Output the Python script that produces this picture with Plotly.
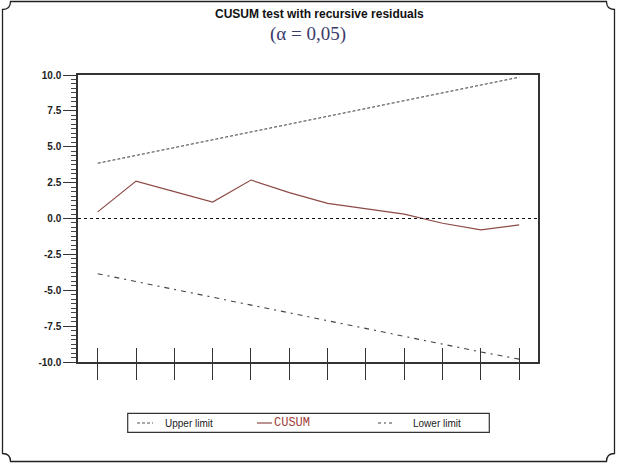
import plotly.graph_objects as go

# ---- data ----
periods = list(range(1, 13))
cusum = [0.46, 2.61, 1.87, 1.15, 2.68, 1.80, 1.06, 0.70, 0.30, -0.33, -0.79, -0.44]
upper_limit = [3.85, 4.40, 4.94, 5.49, 6.03, 6.58, 7.12, 7.67, 8.21, 8.76, 9.30, 9.85]
lower_limit = [-3.85, -4.40, -4.94, -5.49, -6.03, -6.58, -7.12, -7.67, -8.21, -8.76, -9.30, -9.80]
y_ticks = [-10.0, -7.5, -5.0, -2.5, 0.0, 2.5, 5.0, 7.5, 10.0]
y_tick_labels = ["-10.0", "-7.5", "-5.0", "-2.5", "0.0", "2.5", "5.0", "7.5", "10.0"]

W, H = 617, 463
L, R, T, B = 78, 538, 75, 362


def px(p):
    return (p - L) / (R - L)


def py(p):
    return (B - p) / (B - T)


CUSUM_COLOR = "#8c4a46"
fig = go.Figure()
fig.add_trace(go.Scatter(x=periods, y=upper_limit, mode="lines",
                         line=dict(color="#555555", width=1.1, dash="3px,2px"),
                         name="Upper limit", showlegend=False))
fig.add_trace(go.Scatter(x=periods, y=cusum, mode="lines",
                         line=dict(color=CUSUM_COLOR, width=1.2),
                         name="CUSUM", showlegend=False))
fig.add_trace(go.Scatter(x=periods, y=lower_limit, mode="lines", xaxis="x2",
                         line=dict(color="#444444", width=1.1, dash="5px,5px,2px,5px"),
                         name="Lower limit", showlegend=False))

fig.add_hline(y=0, line=dict(color="#111111", width=1, dash="3px,3px"))

shapes = []
# outer frame with concave corners
x0, x1, y0, y1, r = 2.5, 614.5, 1.5, 461.5, 8


def P(a, b):
    return f"{px(a):.5f},{py(b):.5f}"


path = (f"M{P(x0 + r, y0)} L{P(x1 - r, y0)} Q{P(x1 - r, y0 + r)} {P(x1, y0 + r)} "
        f"L{P(x1, y1 - r)} Q{P(x1 - r, y1 - r)} {P(x1 - r, y1)} "
        f"L{P(x0 + r, y1)} Q{P(x0 + r, y1 - r)} {P(x0, y1 - r)} "
        f"L{P(x0, y0 + r)} Q{P(x0 + r, y0 + r)} {P(x0 + r, y0)} Z")
shapes.append(dict(type="path", xref="paper", yref="paper", path=path,
                   line=dict(color="#222222", width=1.3)))
# legend box
shapes.append(dict(type="rect", xref="paper", yref="paper",
                   x0=px(127.7), x1=px(489.3), y0=py(432.3), y1=py(413.3),
                   line=dict(color="#333333", width=1.2)))
ly = py(423)
shapes.append(dict(type="line", xref="paper", yref="paper", x0=px(137), x1=px(153), y0=ly, y1=ly,
                   line=dict(color="#555555", width=1.1, dash="3px,2px")))
shapes.append(dict(type="line", xref="paper", yref="paper", x0=px(257), x1=px(272), y0=ly, y1=ly,
                   line=dict(color=CUSUM_COLOR, width=1.2)))
shapes.append(dict(type="line", xref="paper", yref="paper", x0=px(378), x1=px(395), y0=ly, y1=ly,
                   line=dict(color="#444444", width=1.1, dash="3px,3px,2px,3px")))
fig.update_layout(shapes=fig.layout.shapes + tuple(shapes))

ann = [
    dict(text="<b>CUSUM test with recursive residuals</b>", x=px(319), y=py(14),
         font=dict(family="Liberation Sans, Arial", size=12, color="#111111")),
    dict(text="(α = 0,05)", x=px(308), y=py(34),
         font=dict(family="Liberation Serif, Times New Roman", size=19, color="#3b3b6b")),
    dict(text="Upper limit", x=px(163), y=ly, xanchor="left",
         font=dict(family="Liberation Sans, Arial", size=10, color="#222222")),
    dict(text="CUSUM", x=px(272), y=ly, xanchor="left",
         font=dict(family="Liberation Mono, Courier New", size=12, color="#a0403a")),
    dict(text="Lower limit", x=px(411), y=ly, xanchor="left",
         font=dict(family="Liberation Sans, Arial", size=10, color="#222222")),
]
for a in ann:
    a.update(xref="paper", yref="paper", showarrow=False)
    a.setdefault("xanchor", "center")
    a.setdefault("yanchor", "middle")

xr = [0.486, 12.49]
fig.update_layout(
    width=W, height=H,
    margin=dict(l=L, r=W - R, t=T, b=H - B, pad=0),
    paper_bgcolor="white", plot_bgcolor="white",
    annotations=ann,
    xaxis=dict(range=xr, tickvals=periods, showticklabels=False, ticks="outside",
               ticklen=16, tickwidth=1.2, tickcolor="#333333",
               showline=True, linecolor="#333333", linewidth=1.5, mirror=True,
               showgrid=False, zeroline=False),
    xaxis2=dict(overlaying="x", matches="x", side="bottom", range=xr, tickvals=periods,
                showticklabels=False, ticks="inside", ticklen=14, tickwidth=1.2,
                tickcolor="#333333", showline=False, showgrid=False, zeroline=False),
    yaxis=dict(range=[-10, 10], tickvals=y_ticks, ticktext=y_tick_labels, ticks="outside",
               ticklen=13, tickwidth=1.2, tickcolor="#333333",
               tickfont=dict(family="Liberation Sans, Arial", size=10, color="#222222", weight="bold"),
               showline=True, linecolor="#333333", linewidth=1.5, mirror=True,
               showgrid=False, zeroline=False,
               minor=dict(dtick=0.3125, ticks="outside", ticklen=5, tickwidth=1, tickcolor="#444444",
                          showgrid=False)),
)

fig.write_html("out.html", config={"displayModeBar": False},
               post_script="document.body.style.margin='0';document.body.style.overflow='hidden';")
